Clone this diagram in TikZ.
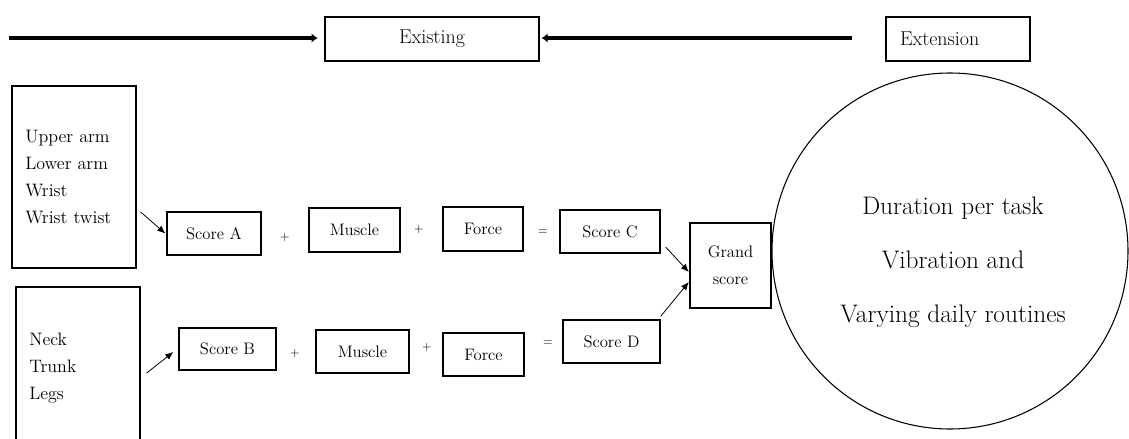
\documentclass[tikz,border=0pt]{standalone}
\usepackage{tikz}
\usetikzlibrary{arrows.meta}

\tikzset{
	scorebox/.style={draw, line width=1pt, inner sep=2pt, font=\fontsize{12.5}{15}\selectfont},
	headbox/.style={draw, line width=1pt, minimum height=33pt, font=\fontsize{15}{18}\selectfont},
	partbox/.style={draw, line width=1pt, inner xsep=10pt, text width=73pt, minimum width=93pt, align=left, font=\fontsize{13.5}{20.25}\selectfont},
	opsign/.style={inner sep=0pt, font=\fontsize{9}{11}\selectfont},
	thinarrow/.style={-{Latex[length=6pt,width=5pt]}, line width=0.6pt},
	bigarrow/.style={-{Latex[length=4.5pt,width=7pt]}, line width=3pt}
}

\begin{document}
\begin{tikzpicture}[x=0.75pt, y=-0.75pt]

\useasboundingbox (0, 0) rectangle (1129, 439);
\clip (0, 0) rectangle (1129, 439);

% heading row
\node[headbox, minimum width=160.5pt] (existing) at (432, 39) {Existing};
\node[headbox, minimum width=108pt, text width=87pt, inner xsep=10.5pt, align=left] (extension) at (958, 39) {Extension};
\coordinate (lefttail) at (9, 38);
\coordinate (righttail) at (852, 38);
\draw[bigarrow, shorten >=5pt] (lefttail) -- (existing.west |- lefttail);
\draw[bigarrow, shorten >=1.5pt] (righttail) -- (existing.east |- righttail);

% body parts
\node[partbox, minimum height=136.5pt] (upper) at (74, 177) {Upper arm\\Lower arm\\Wrist\\Wrist twist};
\node[partbox, minimum height=121.5pt] (lower) at (78, 368) {Neck\\Trunk\\Legs};

% first row
\node[scorebox, minimum width=70.5pt, minimum height=32.25pt] (scoreA) at (214, 233.5) {Score A};
\node[scorebox, minimum width=68.25pt, minimum height=33pt] (muscleA) at (354.5, 230) {Muscle};
\node[scorebox, minimum width=60pt, minimum height=33pt] (forceA) at (483, 229) {Force};
\node[scorebox, minimum width=75pt, minimum height=32.25pt] (scoreC) at (610, 231.5) {Score C};

% second row
\node[scorebox, minimum width=72.75pt, minimum height=31.5pt] (scoreB) at (227.5, 349) {Score B};
\node[scorebox, minimum width=69.75pt, minimum height=32.25pt] (muscleB) at (362.5, 351.5) {Muscle};
\node[scorebox, minimum width=60.75pt, minimum height=32.25pt] (forceB) at (483.5, 354.5) {Force};
\node[scorebox, minimum width=72.75pt, minimum height=32.25pt] (scoreD) at (611.5, 341.5) {Score D};

\foreach \name/\x/\y/\sign in {plusA/285/237/+, plusB/419/229/+, equalA/543/232/=, plusC/295/353/+, plusD/427/347/+, equalB/548/343/=}
{
	\node[opsign] (\name) at (\x, \y) {\sign};
}

\node[scorebox, line width=1.8pt, minimum width=60.75pt, minimum height=63.75pt, align=center, font=\fontsize{12.5}{20.25}\selectfont] (grand) at (730.5, 265.5) {Grand\\score};

% extension factors
\node[draw, circle, line width=0.8pt, minimum size=267pt] (factors) at (950, 251) {};
\node[align=center, font=\fontsize{19}{40.5}\selectfont] (factorlist) at (953, 262) {Duration per task\\Vibration and\\Varying daily routines};

\draw[thinarrow] ([shift={(4, 35)}]upper.east) -- ([shift={(-1, 0)}]scoreA.west);
\draw[thinarrow] ([shift={(6, 5)}]lower.east) -- ([shift={(-5, 3)}]scoreB.west);
\draw[thinarrow] ([shift={(5, 15.5)}]scoreC.east) -- ([shift={(0, 6.5)}]grand.west);
\draw[thinarrow] ([shift={(0, -3)}]scoreD.north east) -- ([shift={(0, 16.5)}]grand.west);

\end{tikzpicture}
\end{document}
